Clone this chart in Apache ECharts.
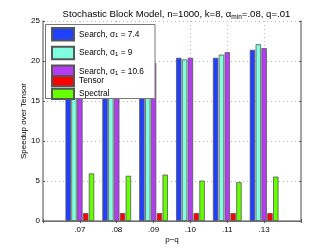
<!DOCTYPE html>
<html><head><meta charset="utf-8">
<script src="https://cdn.jsdelivr.net/npm/echarts@6/dist/echarts.min.js"></script>
<style>html,body{margin:0;padding:0;background:#fff}#c{width:332px;height:249px}</style>
</head><body><div id="c"></div>
<script>
var categories = ['', '.07', '.08', '.09', '.10', '.11', '.13', ''];
var search74  = [null, 19.6, 19.6, 19.6, 20.4, 20.4, 21.4, null];
var search9   = [null, 19.5, 19.5, 19.5, 20.2, 20.8, 22.1, null];
var search106 = [null, 19.8, 19.7, 19.75, 20.4, 21.1, 21.6, null];
var tensor    = [null, 1, 1, 1, 1, 1, 1, null];
var spectral  = [null, 5.95, 5.65, 5.8, 5.05, 4.85, 5.55, null];
var yTicks = [0, 5, 10, 15, 20, 25];

var names = ['Search, σ1 = 7.4', 'Search, σ1 = 9', 'Search, σ1 = 10.6', 'Tensor', 'Spectral'];
var colors = ['#2040ff', '#80ffe0', '#b43cf5', '#ff0000', '#66ff00'];
var values = [search74, search9, search106, tensor, spectral];
var font = 'Liberation Sans, Arial, sans-serif';

var chart = echarts.init(document.getElementById('c'), null, {renderer: 'canvas'});
var series = values.map(function (v, i) {
  return {
    name: names[i], type: 'bar', data: v,
    barWidth: 5.4, barGap: '8%',
    itemStyle: {color: colors[i], borderColor: '#555', borderWidth: 0.8},
    animation: false
  };
});
function fmt(n) {
  return n.replace('σ1', 'σ{sub|1}');
}
var legText = {fontFamily: font, fontSize: 8.3, color: '#000',
  rich: {sub: {fontFamily: font, fontSize: 6, verticalAlign: 'bottom', padding: [3, 0, 0, 0]}}};
chart.setOption({
  animation: false,
  title: {
    text: 'Stochastic Block Model, n=1000, k=8, α{sub|min}=.08, q=.01',
    left: 171.5, textAlign: 'center', top: 2,
    textStyle: {fontFamily: font, fontSize: 9.6, fontWeight: 'normal', color: '#000',
      rich: {sub: {fontFamily: font, fontSize: 6.5, verticalAlign: 'bottom', padding: [7, 0, 0, 0]}}}
  },
  grid: {left: 43, right: 31, top: 21, bottom: 28, show: false},
  xAxis: [{
    type: 'category', data: categories, boundaryGap: false,
    name: 'p−q', nameLocation: 'middle', nameGap: 15, nameMoveOverlap: false,
    nameTextStyle: {fontFamily: font, fontSize: 8, color: '#000'},
    axisLine: {lineStyle: {color: '#222', width: 1}},
    axisTick: {show: true, inside: true, length: 2, lineStyle: {color: '#555'}},
    axisLabel: {fontFamily: font, fontSize: 8, color: '#000', margin: 5},
    splitLine: {show: true, lineStyle: {color: '#bbb', type: [1, 3], width: 1}}
  }, {
    type: 'category', data: categories, boundaryGap: false, position: 'top',
    axisLine: {lineStyle: {color: '#888', width: 1.5}},
    axisTick: {show: true, inside: true, length: 2, lineStyle: {color: '#555'}},
    axisLabel: {show: false}, splitLine: {show: false}
  }],
  yAxis: [{
    type: 'value', min: 0, max: 25, interval: 5,
    name: 'Speedup over Tensor', nameLocation: 'middle', nameGap: 15, nameMoveOverlap: false,
    nameTextStyle: {fontFamily: font, fontSize: 8, color: '#000'},
    axisLine: {show: true, lineStyle: {color: '#888', width: 1.5}},
    axisTick: {show: true, inside: true, length: 2, lineStyle: {color: '#555'}},
    axisLabel: {fontFamily: font, fontSize: 8, color: '#000', margin: 3,
      formatter: function (v) { return yTicks.indexOf(v) >= 0 ? String(v) : ''; }},
    splitLine: {show: true, lineStyle: {color: '#bbb', type: [1, 3], width: 1}}
  }, {
    type: 'value', min: 0, max: 25, interval: 5, position: 'right',
    axisLine: {show: true, lineStyle: {color: '#888', width: 1.5}},
    axisTick: {show: true, inside: true, length: 2, lineStyle: {color: '#555'}},
    axisLabel: {show: false}, splitLine: {show: false}
  }],
  graphic: [{
    type: 'rect', z: 3, shape: {x: 45.5, y: 24.5, width: 109.5, height: 74},
    style: {fill: '#fff', stroke: '#777', lineWidth: 1}
  }],
  legend: [{
    data: names.slice(0, 3), orient: 'vertical', left: 51, top: 27,
    itemWidth: 22, itemHeight: 12.5, itemGap: 4.2, padding: 0, icon: 'rect',
    selectedMode: false, formatter: fmt, textStyle: legText, z: 5
  }, {
    data: names.slice(3), orient: 'vertical', left: 51, top: 75,
    itemWidth: 22, itemHeight: 10.3, itemGap: 0.5, padding: 0, icon: 'rect',
    selectedMode: false, textStyle: legText, z: 5
  }],
  series: series
});
</script></body></html>
